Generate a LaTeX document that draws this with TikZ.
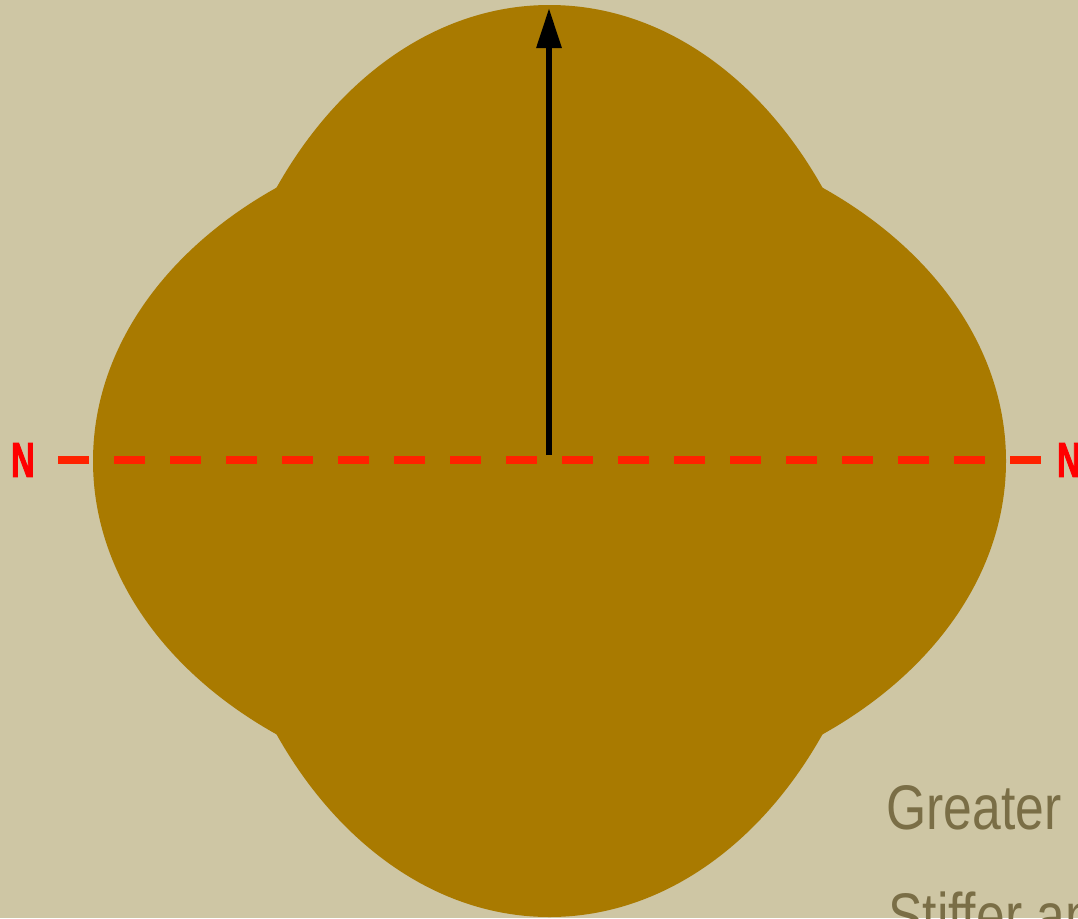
\documentclass[tikz,border=0pt]{standalone}
\usepackage{fontspec}
\setmainfont{Liberation Sans}
\newfontfamily\nfont[FakeBold=2.5]{Liberation Sans Bold}
\usetikzlibrary{arrows.meta}
\definecolor{bgc}{RGB}{206,198,164}
\definecolor{shapec}{RGB}{169,122,0}
\definecolor{nred}{RGB}{255,34,0}
\definecolor{labelc}{RGB}{122,110,70}
\tikzset{
  nlabel/.style={inner sep=0pt, text=red, font=\fontsize{49}{49}\nfont},
  sidetext/.style={inner sep=0pt, anchor=base west, text=labelc, font=\fontsize{63}{63}\selectfont},
  neutral/.style={draw=nred, line width=8pt, dash pattern=on 31pt off 25pt},
  vec/.style={draw=black, line width=6pt, -{Triangle[length=40pt,width=24pt]}}
}
\begin{document}
\begin{tikzpicture}[x=1pt,y=-1pt]
\useasboundingbox (0,0) rectangle (1078,918);
\clip (0,0) rectangle (1078,918);
\fill[bgc] (0,0) rectangle (1078,918);
% lobed section: union of two ellipses
\fill[shapec] (549.5,461) ellipse [x radius=341, y radius=456];
\fill[shapec] (549.5,461) ellipse [x radius=456.5, y radius=341];
% neutral axis
\coordinate (nl) at (58,460);
\coordinate (nr) at (1041,460);
\draw[neutral] (nl) -- (nr);
\node[nlabel, anchor=west] (nleft) at (11,460) {\scalebox{0.66}[1]{N}};
\node[nlabel, anchor=west] (nright) at (1057,460) {\scalebox{0.66}[1]{N}};
% vector
\coordinate (vbase) at (549,455);
\coordinate (vtip) at (549,8);
\draw[vec] (vbase) -- (vtip);
% texts
\node[sidetext] (t1) at (886,829) {\scalebox{0.82}[1]{Greater}};
\node[sidetext] (t2) at (888,937) {\scalebox{0.82}[1]{Stiffer and}};
\end{tikzpicture}
\end{document}
